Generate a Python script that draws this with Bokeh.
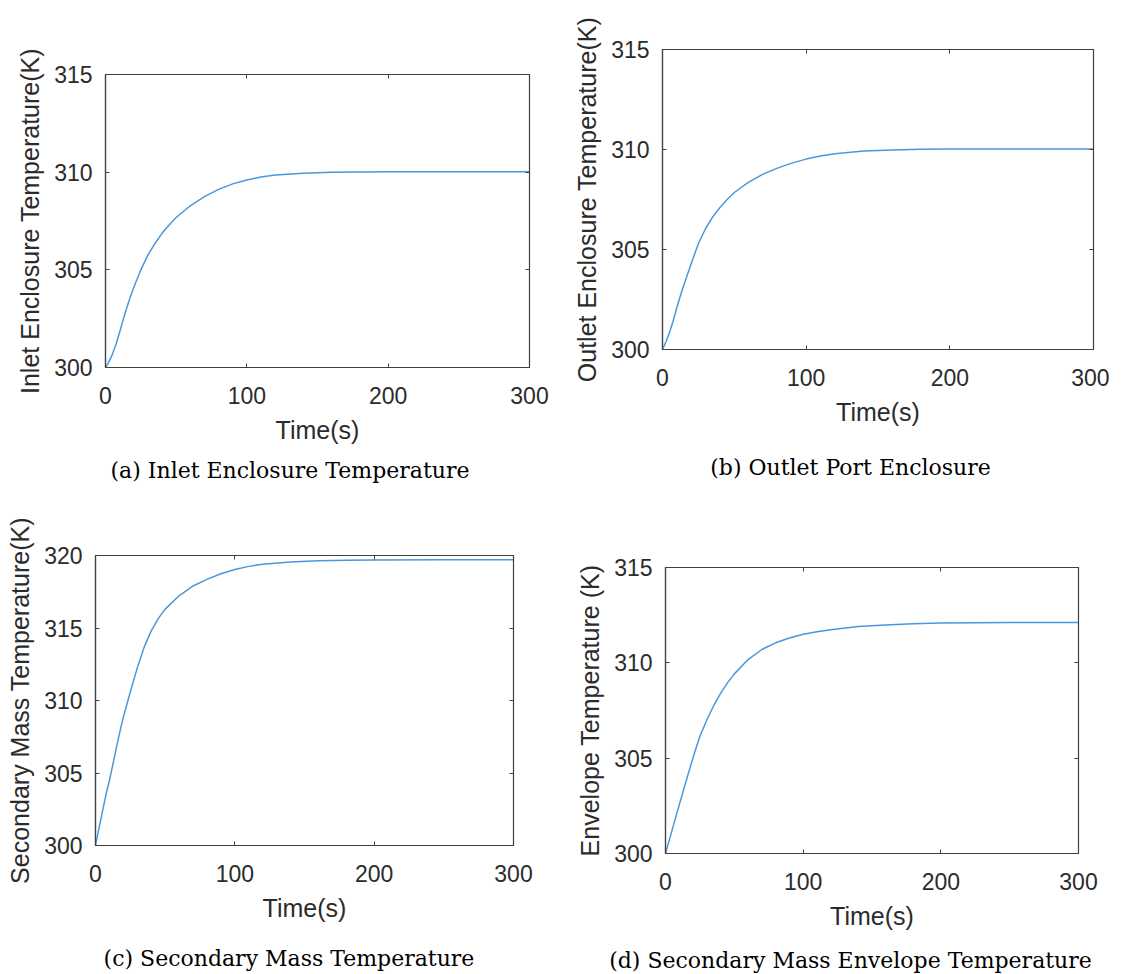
from bokeh.plotting import figure
from bokeh.models import Range1d, FixedTicker, LinearAxis
from bokeh.layouts import row, column
from bokeh.core.properties import value
from bokeh.embed import file_html
from bokeh.resources import INLINE

# ---- data ----
time_s = [0, 2.5, 5, 7.5, 10, 12.5, 15, 17.5, 20, 25, 30, 35, 40, 45, 50, 60, 70, 80,
          90, 100, 110, 120, 140, 160, 180, 200, 250, 300]
inlet_T = [300.0, 300.3, 300.7, 301.2, 301.8, 302.45, 303.05, 303.6, 304.1, 305.0, 305.75,
           306.35, 306.87, 307.3, 307.68, 308.28, 308.75, 309.12, 309.4, 309.6, 309.75,
           309.85, 309.95, 309.99, 310.01, 310.02, 310.02, 310.02]
outlet_T = [300.0, 300.4, 300.88, 301.45, 302.1, 302.7, 303.25, 303.78, 304.3, 305.3, 306.05,
            306.63, 307.1, 307.5, 307.85, 308.37, 308.77, 309.07, 309.32, 309.52, 309.67,
            309.79, 309.92, 309.98, 310.01, 310.02, 310.03, 310.03]
secondary_T = [300.0, 301.2, 302.35, 303.5, 304.5, 305.6, 306.75, 307.85, 308.85, 310.6,
               312.25, 313.7, 314.8, 315.65, 316.3, 317.22, 317.9, 318.35, 318.74, 319.03,
               319.25, 319.4, 319.55, 319.63, 319.67, 319.69, 319.7, 319.7]
envelope_T = [300.0, 300.65, 301.28, 301.92, 302.55, 303.18, 303.8, 304.42, 305.03, 306.15,
              307.0, 307.75, 308.4, 308.95, 309.42, 310.17, 310.7, 311.05, 311.3, 311.5,
              311.63, 311.74, 311.9, 311.99, 312.05, 312.09, 312.12, 312.12]

x_ticks = [0, 100, 200, 300]
y_ticks_15 = [300, 305, 310, 315]
y_ticks_20 = [300, 305, 310, 315, 320]

x_label = "Time(s)"
y_labels = ["Inlet Enclosure Temperature(K)", "Outlet Enclosure Temperature(K)",
            "Secondary Mass Temperature(K)", "Envelope Temperature (K)"]
captions = ["(a) Inlet Enclosure Temperature", "(b) Outlet Port Enclosure",
            "(c) Secondary Mass Temperature", "(d) Secondary Mass Envelope Temperature"]

LINE = "#4a98dc"
AX = "#404040"
TXT = "#2b2b2b"
SANS = "Liberation Sans"


def panel(T, ylab, yr, yticks, w, h, bl, br, bt, bb):
    p = figure(width=w, height=h, output_backend="svg", toolbar_location=None,
               x_range=Range1d(0, 300), y_range=Range1d(*yr),
               min_border_left=bl, min_border_right=br,
               min_border_top=bt, min_border_bottom=bb)
    p.grid.visible = False
    p.outline_line_color = AX
    p.outline_line_width = 1.2
    p.line(time_s, T, line_color=LINE, line_width=1.5)

    for ax, ticks in ((p.xaxis[0], x_ticks), (p.yaxis[0], yticks)):
        ax.ticker = FixedTicker(ticks=ticks)
        ax.minor_tick_line_color = None
        ax.major_tick_in = 4
        ax.major_tick_out = 0
        ax.axis_line_color = AX
        ax.axis_line_width = 1.2
        ax.major_tick_line_color = AX
        ax.major_label_text_font = SANS
        ax.major_label_text_font_size = "23px"
        ax.major_label_text_color = TXT
        ax.axis_label_text_font = SANS
        ax.axis_label_text_font_size = "25px"
        ax.axis_label_text_font_style = "normal"
        ax.axis_label_text_color = TXT
    p.xaxis[0].axis_label = x_label
    p.xaxis[0].major_label_standoff = 19
    p.xaxis[0].axis_label_standoff = 9
    p.yaxis[0].axis_label = ylab
    p.yaxis[0].major_label_standoff = 13
    p.yaxis[0].axis_label_standoff = 7

    top = LinearAxis(ticker=FixedTicker(ticks=x_ticks))
    right = LinearAxis(ticker=FixedTicker(ticks=yticks))
    for ax in (top, right):
        ax.major_label_text_font_size = "1px"
        ax.major_label_text_color = None
        ax.major_label_standoff = 0
        ax.minor_tick_line_color = None
        ax.major_tick_in = 4
        ax.major_tick_out = 0
        ax.axis_line_color = AX
        ax.major_tick_line_color = AX
    p.add_layout(top, "above")
    p.add_layout(right, "right")
    return p


def caption(cap, w, h, cx, cy):
    # caption strip: x and y ranges are in pixels of the strip (y measured from the top)
    c = figure(width=w, height=h, output_backend="svg", toolbar_location=None,
               x_range=Range1d(0, w), y_range=Range1d(h, 0),
               x_axis_type=None, y_axis_type=None,
               min_border_left=0, min_border_right=0, min_border_top=0, min_border_bottom=0)
    c.grid.visible = False
    c.outline_line_color = None
    c.text(x=[cx], y=[cy], text=[cap], text_align="center", text_baseline="middle",
           text_font=value("DejaVu Serif"), text_font_size=value("22px"),
           text_color="black")
    return c


pa = panel(inlet_T, y_labels[0], (300, 315), y_ticks_15, 552, 452, 105, 23, 74, 85)
pb = panel(outlet_T, y_labels[1], (300, 315), y_ticks_15, 557, 452, 110, 16, 49, 103)
pc = panel(secondary_T, y_labels[2], (300, 320), y_ticks_20, 552, 429, 95, 39, 55, 84)
pd = panel(envelope_T, y_labels[3], (300, 315), y_ticks_15, 557, 437, 113, 31, 67, 84)

ca = caption(captions[0], 552, 48, 289.5, 18)
cb = caption(captions[1], 557, 48, 298, 15)
cc = caption(captions[2], 552, 45, 288.5, 29)
cd = caption(captions[3], 557, 37, 298, 23)

top_row = row(column(row(pa), row(ca)), column(row(pb), row(cb)))
bottom_row = row(column(row(pc), row(cc)), column(row(pd), row(cd)))
layout = column(top_row, bottom_row)
open("out.html", "w").write(file_html(layout, INLINE))
